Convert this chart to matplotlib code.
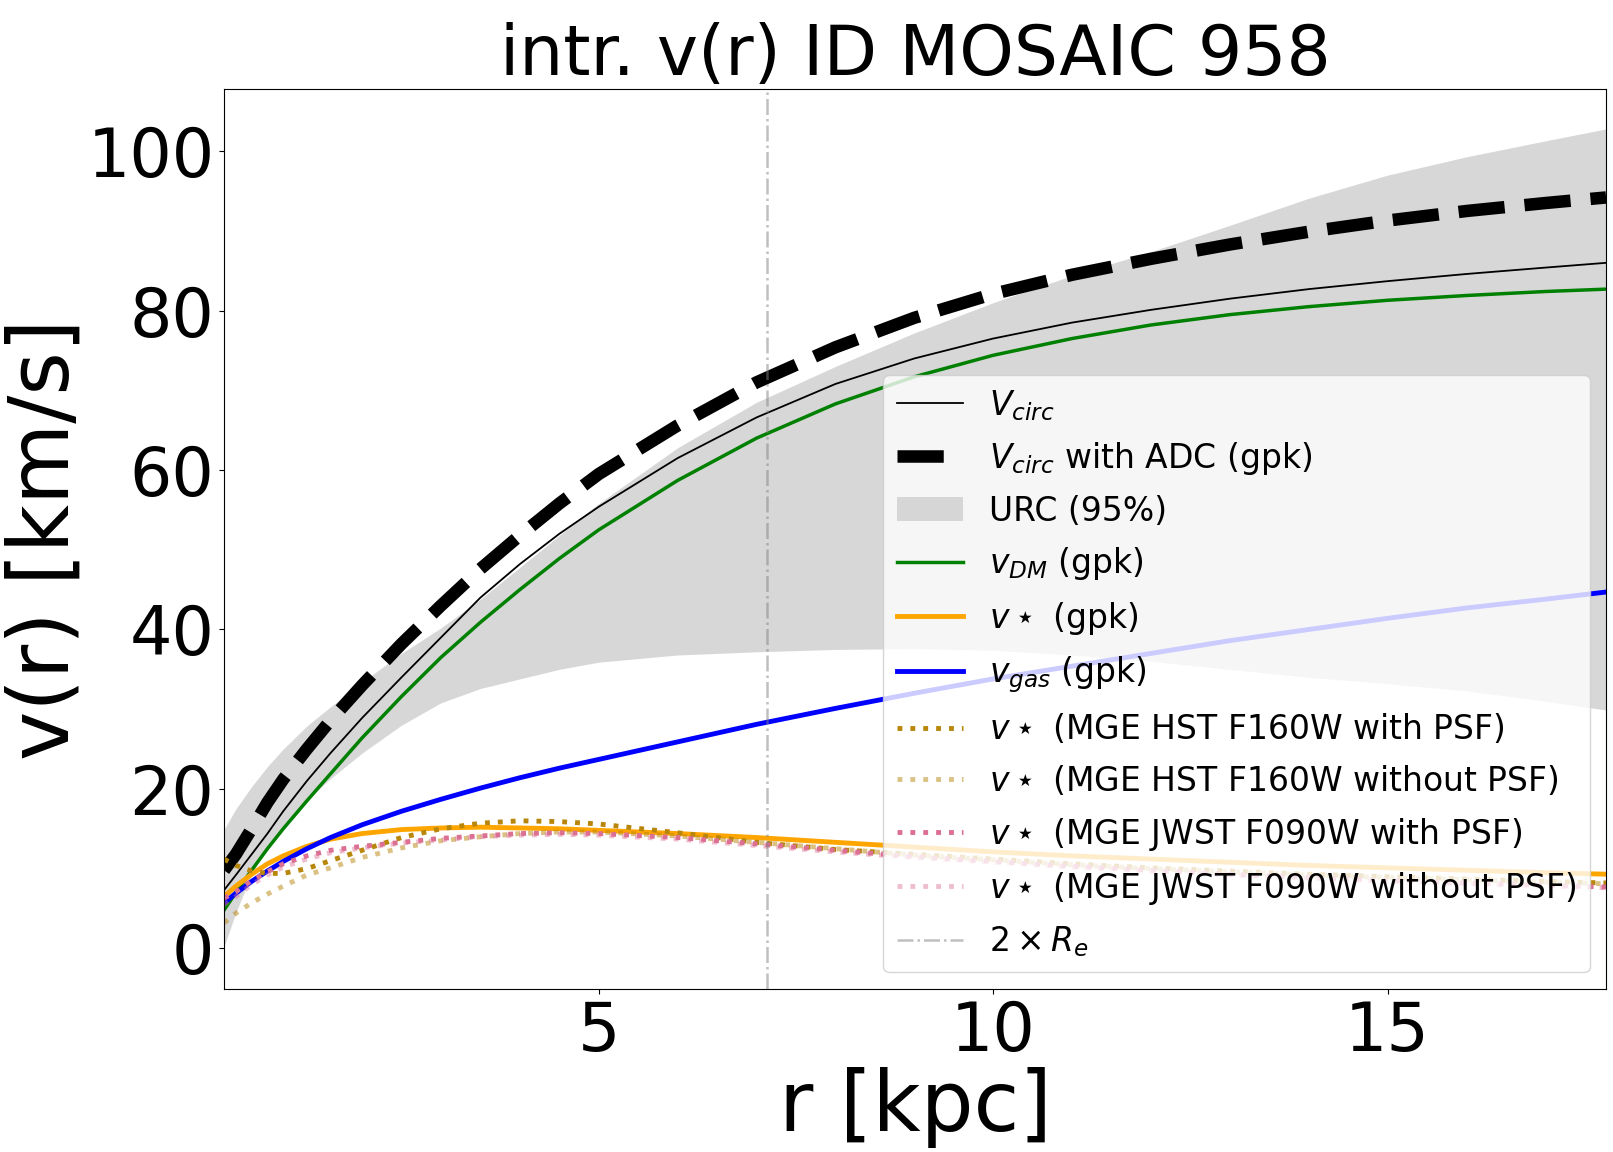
import numpy as np
import matplotlib
matplotlib.use('Agg')
import matplotlib.pyplot as plt

# радиусы, кпк
r_kpc = [0.25, 0.4, 0.6, 0.8, 1.0, 1.3, 1.6, 2.0, 2.5, 3.0, 3.5, 4.0, 4.5, 5.0,
         6.0, 7.0, 8.0, 9.0, 10.0, 11.0, 12.0, 13.0, 14.0, 15.0, 16.0, 17.0, 17.77]

# кривые вращения, км/с
v_circ = [7.3, 9.2, 11.8, 14.4, 17.2, 21.0, 24.5, 28.9, 34.0, 39.0, 44.0, 48.2, 52.0, 55.4,
          61.5, 66.6, 70.8, 74.0, 76.5, 78.5, 80.1, 81.5, 82.7, 83.7, 84.6, 85.4, 86.0]
v_circ_adc = [9.8, 11.8, 15.0, 18.3, 21.2, 25.0, 28.6, 33.0, 38.2, 43.0, 47.6, 51.8, 55.8, 59.5,
              65.6, 71.0, 75.4, 79.1, 82.1, 84.5, 86.5, 88.3, 89.9, 91.3, 92.5, 93.5, 94.2]
urc_low = [0.2, 4.5, 9.3, 12.8, 15.3, 18.6, 21.3, 24.5, 28.0, 30.8, 32.6, 33.8, 35.0, 35.9,
           36.8, 37.2, 37.5, 37.6, 37.4, 36.8, 36.0, 35.0, 34.0, 33.2, 32.3, 31.0, 29.9]
urc_high = [14.9, 17.5, 20.3, 22.8, 25.0, 27.9, 30.3, 33.4, 37.0, 40.2, 43.8, 47.8, 51.8, 55.8,
            62.8, 68.5, 73.0, 77.2, 81.0, 84.4, 87.4, 90.7, 94.1, 97.0, 99.3, 101.3, 102.8]
v_dm = [4.8, 7.0, 9.8, 12.5, 15.0, 18.5, 21.9, 26.4, 31.6, 36.5, 40.9, 45.0, 48.9, 52.5,
        58.7, 64.0, 68.3, 71.7, 74.4, 76.5, 78.2, 79.5, 80.5, 81.3, 81.9, 82.4, 82.7]
v_star = [6.5, 7.8, 9.3, 10.6, 11.6, 12.8, 13.7, 14.4, 14.9, 15.1, 15.2, 15.1, 15.0, 14.8,
          14.4, 13.9, 13.3, 12.7, 12.1, 11.6, 11.2, 10.8, 10.4, 10.1, 9.8, 9.5, 9.3]
v_gas = [5.7, 6.9, 8.4, 9.7, 10.9, 12.5, 13.9, 15.5, 17.2, 18.7, 20.1, 21.4, 22.6, 23.7,
         25.9, 28.1, 30.1, 32.0, 33.8, 35.4, 37.0, 38.6, 40.0, 41.4, 42.7, 43.8, 44.7]
v_hst_psf = [11.2, 10.4, 9.7, 9.4, 9.4, 10.0, 11.0, 12.3, 13.9, 15.0, 15.7, 16.0, 15.9, 15.6,
             14.5, 13.3, 12.4, 11.8, 11.2, 10.6, 10.1, 9.7, 9.3, 9.0, 8.7, 8.4, 8.2]
v_hst_nopsf = [3.2, 4.4, 5.7, 6.8, 7.8, 9.2, 10.1, 11.4, 12.6, 13.5, 14.0, 14.4, 14.6, 14.6,
               14.1, 13.3, 12.5, 11.7, 11.1, 10.5, 10.0, 9.6, 9.2, 8.9, 8.6, 8.3, 8.1]
v_jwst_psf = [6.3, 7.1, 8.5, 9.6, 10.6, 11.6, 12.3, 12.8, 13.3, 13.8, 14.1, 14.4, 14.5, 14.4,
              13.9, 13.1, 12.3, 11.5, 10.9, 10.3, 9.8, 9.3, 8.9, 8.5, 8.2, 7.9, 7.7]
v_jwst_nopsf = [5.5, 6.5, 8.0, 9.2, 10.2, 11.2, 12.0, 12.6, 13.2, 13.6, 14.0, 14.2, 14.3, 14.2,
                13.7, 12.9, 12.1, 11.4, 10.8, 10.2, 9.7, 9.2, 8.8, 8.4, 8.1, 7.8, 7.6]

# эффективный радиус, кпк
r_eff = 3.565

galaxy_id = 958


def plot_rotation_curve():
    """Кривая вращения с компонентами массы."""
    fig = plt.figure(figsize=(16.13, 11.52), dpi=100)
    ax = fig.add_axes([0.1389, 0.1415, 0.8568, 0.7812])

    ax.plot(r_kpc, v_circ, color='black', lw=1.3, label=r'$V_{circ}$')
    ax.plot(r_kpc, v_circ_adc, color='black', lw=9, ls='--', label=r'$V_{circ}$ with ADC (gpk)')
    ax.fill_between(r_kpc, urc_low, urc_high, color='lightgray', alpha=0.9, lw=0, label='URC (95%)')
    ax.plot(r_kpc, v_dm, color='green', lw=2.5, label=r'$v_{DM}$ (gpk)')
    ax.plot(r_kpc, v_star, color='orange', lw=3.5, label=r'$v\star$ (gpk)')
    ax.plot(r_kpc, v_gas, color='blue', lw=3.5, label=r'$v_{gas}$ (gpk)')

    # звёздные компоненты по MGE
    ax.plot(r_kpc, v_hst_psf, color='darkgoldenrod', lw=3.5, ls=':',
            label=r'$v\star$ (MGE HST F160W with PSF)')
    ax.plot(r_kpc, v_hst_nopsf, color='darkgoldenrod', alpha=0.5, lw=3.5, ls=':',
            label=r'$v\star$ (MGE HST F160W without PSF)')
    ax.plot(r_kpc, v_jwst_psf, color='palevioletred', lw=3.5, ls=':',
            label=r'$v\star$ (MGE JWST F090W with PSF)')
    ax.plot(r_kpc, v_jwst_nopsf, color='palevioletred', alpha=0.45, lw=3.5, ls=':',
            label=r'$v\star$ (MGE JWST F090W without PSF)')

    ax.axvline(2 * r_eff, color='gray', alpha=0.5, lw=1.8, ls='-.', label=r'$2\times R_e$')

    ax.set_xlim(r_kpc[0], r_kpc[-1])
    ax.set_ylim(-5.1, 107.8)
    ax.set_xticks([5, 10, 15])
    ax.set_yticks([0, 20, 40, 60, 80, 100])
    ax.tick_params(labelsize=48)

    ax.set_title(f'intr. v(r) ID MOSAIC {galaxy_id}', fontsize=50)
    ax.set_xlabel('r [kpc]', fontsize=60, labelpad=2)
    ax.set_ylabel('v(r) [km/s]', fontsize=60, labelpad=1)
    ax.legend(loc='lower right', fontsize=23.8, labelspacing=0.53)

    fig.savefig('out.png', dpi=100)


if __name__ == "__main__":
    plot_rotation_curve()
